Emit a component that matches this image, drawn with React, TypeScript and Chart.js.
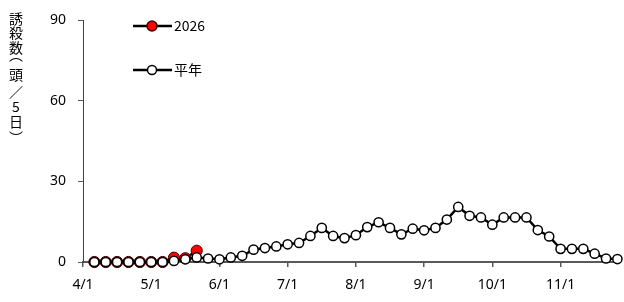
import React, { useEffect, useRef } from "react";
import { Chart, registerables } from "chart.js";

Chart.register(...registerables);

const dates = [
  "4/1", "4/6", "4/11", "4/16", "4/21", "4/26",
  "5/1", "5/6", "5/11", "5/16", "5/21", "5/26",
  "6/1", "6/6", "6/11", "6/16", "6/21", "6/26",
  "7/1", "7/6", "7/11", "7/16", "7/21", "7/26",
  "8/1", "8/6", "8/11", "8/16", "8/21", "8/26",
  "9/1", "9/6", "9/11", "9/16", "9/21", "9/26",
  "10/1", "10/6", "10/11", "10/16", "10/21", "10/26",
  "11/1", "11/6", "11/11", "11/16", "11/21", "11/26",
];

const series2026: (number | null)[] = [null, 0, 0, 0, 0, 0, 0, 0, 1.6, 1.4, 4.2];

const seriesNormal: (number | null)[] = [
  null, 0, 0, 0, 0, 0, 0, 0, 0.4, 1.0, 1.7, 1.3,
  1.0, 1.7, 2.3, 4.6, 5.2, 5.8, 6.6, 7.1, 9.7, 12.7, 9.7, 8.9,
  10.0, 13.0, 14.8, 12.7, 10.3, 12.4, 11.8, 12.7, 15.8, 20.5, 17.2, 16.6,
  13.9, 16.6, 16.6, 16.6, 11.9, 9.5, 4.9, 4.9, 4.9, 3.1, 1.3, 1.1,
];

const yTicks = [0, 30, 60, 90];
const legendNames = ["2026", "平年"];
// vertical title (誘殺数（頭／5日）) with vertical-form brackets
const yTitleChars = ["誘", "殺", "数", "︵", "頭", "／", "5", "日", "︶"];

const tickFont = { family: "'Noto Sans', sans-serif", size: 14 };
const cjkFont = "'Noto Sans CJK JP', sans-serif";

export default function App() {
  const ref = useRef<HTMLCanvasElement | null>(null);

  useEffect(() => {
    const canvas = ref.current;
    if (!canvas) return;

    const overlay = {
      id: "overlay",
      afterDraw(chart: any) {
        const ctx = chart.ctx as CanvasRenderingContext2D;
        ctx.save();
        // y title (vertical, upright characters)
        ctx.fillStyle = "#000";
        ctx.font = `14px ${cjkFont}`;
        ctx.textAlign = "center";
        ctx.textBaseline = "middle";
        const ys = [18.5, 33, 48, 55, 75, 91.5, 107, 121.5, 138];
        yTitleChars.forEach((c, i) => ctx.fillText(c, 16, ys[i]));

        // legend
        const items = [
          { name: legendNames[0], y: 26, fill: "#ff0000", border: "#400000", r: 5 },
          { name: legendNames[1], y: 70, fill: "#ffffff", border: "#000000", r: 4.5 },
        ];
        items.forEach((it) => {
          ctx.strokeStyle = "#000";
          ctx.lineWidth = 2.5;
          ctx.beginPath();
          ctx.moveTo(133, it.y);
          ctx.lineTo(172, it.y);
          ctx.stroke();
          ctx.beginPath();
          ctx.arc(152, it.y, it.r, 0, Math.PI * 2);
          ctx.fillStyle = it.fill;
          ctx.fill();
          ctx.lineWidth = 1.5;
          ctx.strokeStyle = it.border;
          ctx.stroke();
          ctx.fillStyle = "#000";
          ctx.textAlign = "left";
          ctx.textBaseline = "middle";
          ctx.font = `14px ${cjkFont}`;
          ctx.fillText(it.name, 174, it.y);
        });
        ctx.restore();
      },
    };

    const chart = new Chart(canvas, {
      type: "line",
      data: {
        labels: dates,
        datasets: [
          {
            label: legendNames[1],
            data: seriesNormal,
            borderColor: "#000",
            borderWidth: 2.5,
            pointBackgroundColor: "#fff",
            pointBorderColor: "#000",
            pointBorderWidth: 1.5,
            pointRadius: 4.6,
            spanGaps: false,
            clip: false,
          } as any,
          {
            label: legendNames[0],
            data: series2026,
            borderColor: "#000",
            borderWidth: 2.5,
            pointBackgroundColor: "#ff0000",
            pointBorderColor: "#400000",
            pointBorderWidth: 1,
            pointRadius: 5.6,
            clip: false,
          } as any,
        ],
      },
      options: {
        responsive: false,
        animation: false,
        events: [],
        layout: { padding: { top: 12, right: 5, left: 0, bottom: 0 } },
        plugins: { legend: { display: false }, tooltip: { enabled: false } },
        scales: {
          x: {
            type: "category",
            offset: false,
            grid: {
              display: true,
              drawOnChartArea: false,
              drawTicks: true,
              tickLength: 5,
              color: "#595959",
              lineWidth: 1.5,
            },
            border: { display: true, color: "#595959", width: 2 },
            ticks: {
              autoSkip: false,
              maxRotation: 0,
              minRotation: 0,
              padding: 10,
              color: "#000",
              font: tickFont,
              callback: (_v: any, i: number) => (dates[i].endsWith("/1") ? dates[i] : null),
            },
            afterFit: (s: any) => {
              s.height = 40;
            },
          },
          y: {
            min: 0,
            max: 90,
            afterBuildTicks: (s: any) => {
              s.ticks = yTicks.map((v) => ({ value: v }));
            },
            grid: {
              display: true,
              drawOnChartArea: false,
              drawTicks: true,
              tickLength: 5,
              color: "#595959",
              lineWidth: 1,
            },
            border: { display: true, color: "#404040", width: 1 },
            ticks: { padding: 12, color: "#000", font: tickFont },
            afterFit: (s: any) => {
              s.width = 83;
            },
          },
        },
      },
      plugins: [overlay],
    });

    return () => chart.destroy();
  }, []);

  return (
    <div style={{ position: "absolute", left: 0, top: 0, width: 624, height: 302, background: "#fff" }}>
      <canvas ref={ref} width={624} height={302} style={{ display: "block" }} />
    </div>
  );
}
